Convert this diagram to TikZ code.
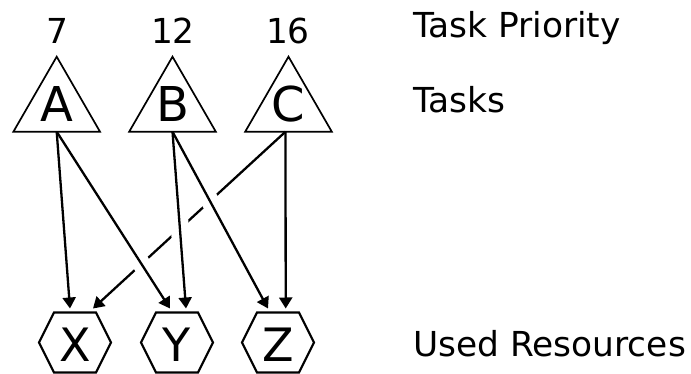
\documentclass[tikz,border=0pt]{standalone}
\usepackage{fontspec}
\setmainfont{DejaVu Sans}
\usetikzlibrary{shapes.geometric,arrows.meta,calc}
\begin{document}
\begin{tikzpicture}[x=1pt,y=-1pt,
  tri/.style={draw,line width=1.7pt,regular polygon,regular polygon sides=3,minimum size=100pt,inner sep=0pt,outer sep=0pt},
  big/.style={font=\fontsize{48}{56}\selectfont,inner sep=0pt,anchor=base},
  hexlabel/.style={font=\fontsize{46}{54}\selectfont,inner sep=0pt,anchor=base},
  med/.style={font=\fontsize{34.4}{40}\selectfont,inner sep=0pt},
  conn/.style={line width=2.3pt,-{Triangle[length=11pt,width=13pt]}},
  over/.style={conn,preaction={-,draw=white,line width=18pt,shorten <=40pt,shorten >=40pt}},
  hexline/.style={line width=2.2pt,line join=miter}]
\useasboundingbox (0,0) rectangle (691,374);

% tasks (triangles)
\node[tri] (A) at (56.7,106.7) {};
\node[tri] (B) at (172.5,106.7) {};
\node[tri] (C) at (288.5,106.7) {};
\node[big] (Al) at (56.7,121.7) {A};
\node[big] (Bl) at (172.5,121.7) {B};
\node[big] (Cl) at (288.5,121.7) {C};

% priorities
\node[med,anchor=base] (p7) at (57,44) {7};
\node[med,anchor=base] (p12) at (173,44) {12};
\node[med,anchor=base] (p16) at (288,44) {16};

% resources (hexagons)
\foreach \n/\x in {X/75,Y/177,Z/278}{
  \coordinate (\n) at (\x,342.5);
  \draw[hexline] ($(\n)+(-36,0)$) -- ($(\n)+(-21,-30)$) -- ($(\n)+(21,-30)$)
     -- ($(\n)+(36,0)$) -- ($(\n)+(21,30)$) -- ($(\n)+(-21,30)$) -- cycle;
  \node[hexlabel] (l\n) at ($(\n)+(0,19.2)$) {\n};
}

% connectors
\draw[conn] ([xshift=-3pt]C.side 2) -- ($(X)+(18,-34)$);
\draw[over] (A.side 2) -- ($(Y)+(-7,-34)$);
\draw[over] (B.side 2) -- ($(Z)+(-10,-34)$);
\draw[over] (B.side 2) -- ($(Y)+(9,-34)$);
\draw[conn] (A.side 2) -- ($(X)+(-5,-34)$);
\draw[conn] ([xshift=-3pt]C.side 2) -- ($(Z)+(7.7,-34)$);

% legend texts
\node[med,anchor=base west] (t1) at (413,37.7) {Task Priority};
\node[med,anchor=base west] (t2) at (413,113) {Tasks};
\node[med,anchor=base west] (t3) at (413,356) {Used Resources};
\end{tikzpicture}
\end{document}
